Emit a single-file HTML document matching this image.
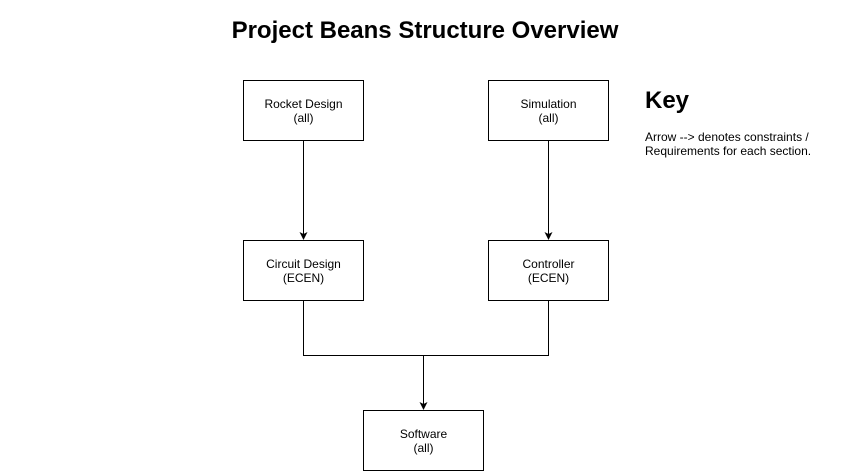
<!DOCTYPE html>
<html><head><meta charset="utf-8"><style>
html,body{margin:0;padding:0;background:#fff;}
svg{display:block;font-family:"Liberation Sans",Arial,sans-serif;}
</style></head><body>
<svg width="851" height="471" viewBox="0 0 851 471" xmlns="http://www.w3.org/2000/svg">
<text x="425" y="38" text-anchor="middle" font-size="24" font-weight="bold">Project Beans Structure Overview</text>
<g fill="#fff" stroke="#000" stroke-width="1">
<rect x="243.5" y="80.5" width="120" height="60"/>
<rect x="488.5" y="80.5" width="120" height="60"/>
<rect x="243.5" y="240.5" width="120" height="60"/>
<rect x="488.5" y="240.5" width="120" height="60"/>
<rect x="363.5" y="410.5" width="120" height="60"/>
</g>
<g stroke="#000" fill="none" stroke-width="1">
<line x1="303.5" y1="141" x2="303.5" y2="234"/>
<line x1="548.5" y1="141" x2="548.5" y2="234"/>
<polyline points="303.5,301 303.5,355.5 548.5,355.5 548.5,301"/>
<line x1="423.5" y1="355.5" x2="423.5" y2="404"/>
</g>
<g fill="#000">
<path d="M299.5,232 L303.5,240 L307.5,232 L303.5,234 Z"/>
<path d="M544.5,232 L548.5,240 L552.5,232 L548.5,234 Z"/>
<path d="M419.5,402 L423.5,410 L427.5,402 L423.5,404 Z"/>
</g>
<g font-size="12" text-anchor="middle">
<text x="303.5" y="108">Rocket Design</text><text x="303.5" y="122">(all)</text>
<text x="548.5" y="108">Simulation</text><text x="548.5" y="122">(all)</text>
<text x="303.5" y="268">Circuit Design</text><text x="303.5" y="282">(ECEN)</text>
<text x="548.5" y="268">Controller</text><text x="548.5" y="282">(ECEN)</text>
<text x="423.5" y="438">Software</text><text x="423.5" y="452">(all)</text>
</g>
<text x="645" y="108" font-size="24" font-weight="bold">Key</text>
<text x="645" y="141" font-size="12">Arrow --&gt; denotes constraints /</text>
<text x="645" y="155" font-size="12">Requirements for each section.</text>
</svg>
</body></html>
